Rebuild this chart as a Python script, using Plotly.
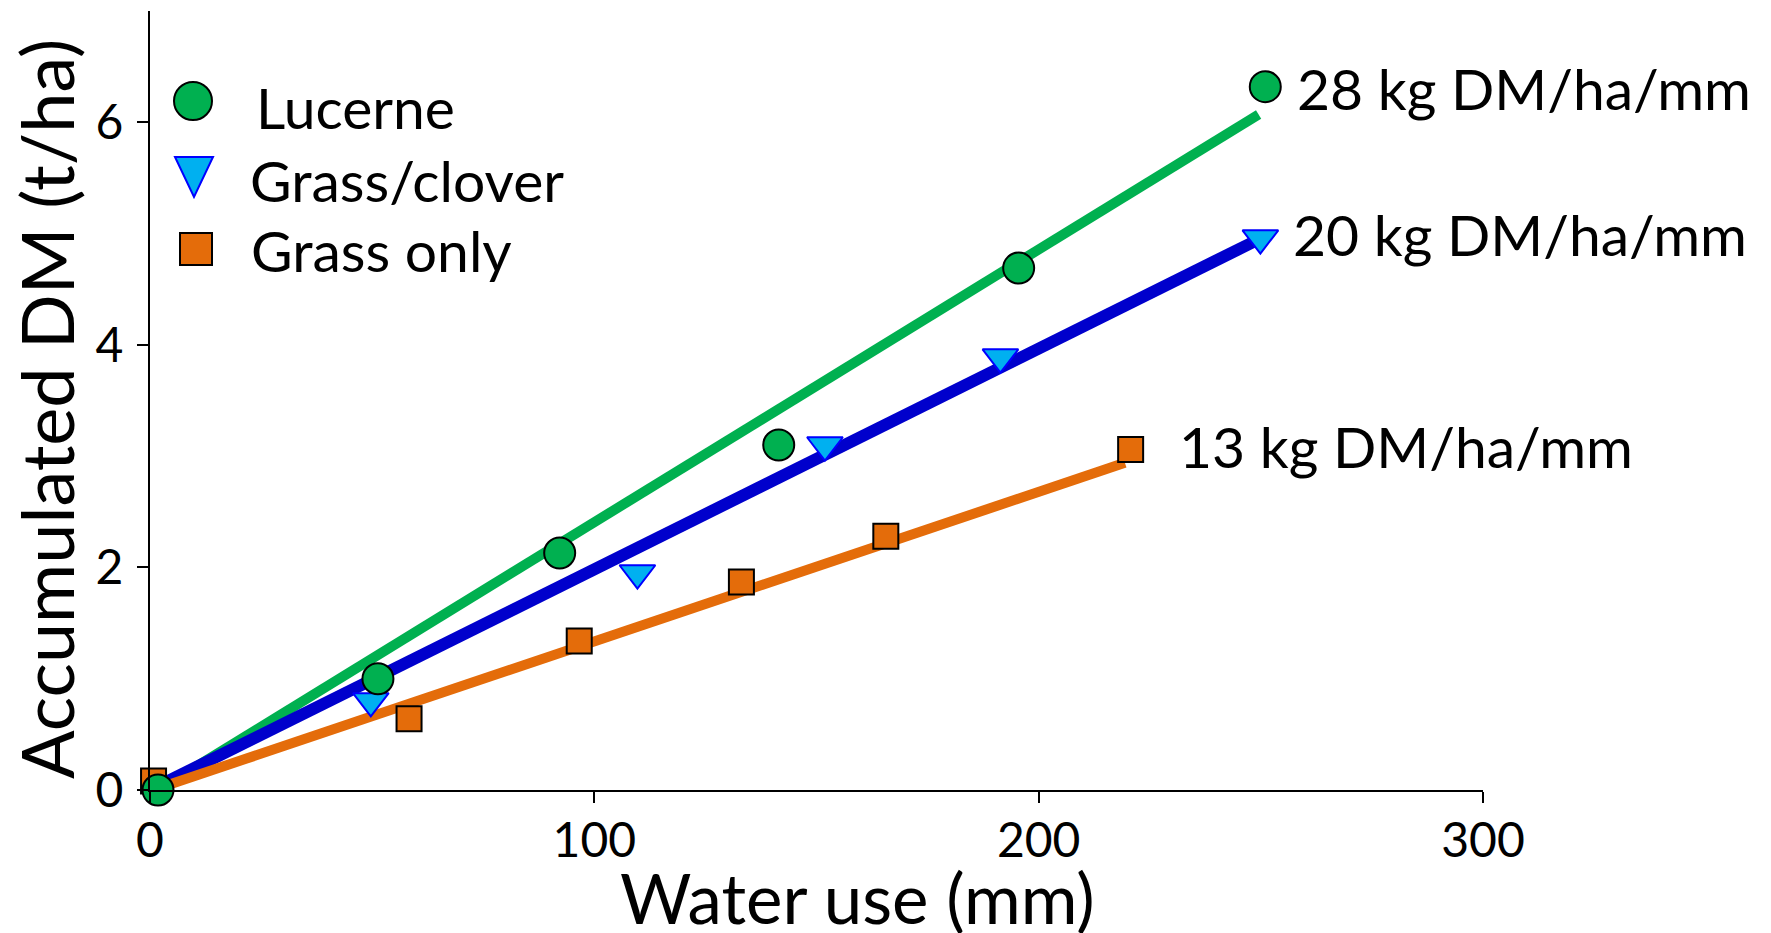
import plotly.graph_objects as go

# ---------------- data ----------------
lucerne_x = [1.8, 51.3, 92.2, 141.5, 195.5, 251.0]
lucerne_y = [0.0, 1.00, 2.13, 3.10, 4.69, 6.32]

clover_x = [-1.0, 49.7, 109.7, 151.9, 191.4, 249.9]
clover_y = [0.0, 0.80, 1.95, 3.10, 3.89, 4.96]

grass_x = [0.8, 58.3, 96.6, 133.1, 165.6, 220.7]
grass_y = [0.08, 0.64, 1.34, 1.87, 2.28, 3.06]

# fitted lines (start / end)
lucerne_fit_x = [1.8, 249.5]
lucerne_fit_y = [0.0, 6.07]
clover_fit_x = [0.0, 249.1]
clover_fit_y = [0.0, 4.94]
grass_fit_x = [0.7, 219.4]
grass_fit_y = [0.0, 2.94]

series_names = ["Lucerne", "Grass/clover", "Grass only"]
slope_labels = ["28 kg DM/ha/mm", "20 kg DM/ha/mm", "13 kg DM/ha/mm"]
slope_label_x = [257.6, 256.8, 231.2]
slope_label_y = [6.31, 5.00, 3.09]

x_ticks = [0, 100, 200, 300]
y_ticks = [0, 2, 4, 6]

# ---------------- styling ----------------
W, H = 1771, 933
L, R, T, B = 150, 288, 11, 143
FONT = "Lato"
GREEN = "#00B050"
BLUE_LINE = "#0000CC"
TRI_FILL = "#00B0F0"
TRI_EDGE = "#0000FF"
ORANGE = "#E46C0A"

plot_w = W - L - R
plot_h = H - T - B


def px_to_paper(px, py):
    return (px - L) / plot_w, (H - B - py) / plot_h


fig = go.Figure()

# fitted lines
fig.add_trace(go.Scatter(x=lucerne_fit_x, y=lucerne_fit_y, mode="lines",
                         line=dict(color=GREEN, width=10), showlegend=False,
                         hoverinfo="skip", cliponaxis=False))
fig.add_trace(go.Scatter(x=clover_fit_x, y=clover_fit_y, mode="lines",
                         line=dict(color=BLUE_LINE, width=12), showlegend=False,
                         hoverinfo="skip", cliponaxis=False))
fig.add_trace(go.Scatter(x=grass_fit_x, y=grass_fit_y, mode="lines",
                         line=dict(color=ORANGE, width=10), showlegend=False,
                         hoverinfo="skip", cliponaxis=False))

# points
fig.add_trace(go.Scatter(x=grass_x, y=grass_y, mode="markers", name=series_names[2],
                         marker=dict(symbol="square", size=25, color=ORANGE,
                                     line=dict(color="black", width=2)),
                         showlegend=False, cliponaxis=False))
fig.add_trace(go.Scatter(x=clover_x, y=clover_y, mode="markers", name=series_names[1],
                         marker=dict(symbol="triangle-down", size=31, color=TRI_FILL,
                                     line=dict(color=TRI_EDGE, width=2)),
                         showlegend=False, cliponaxis=False))
fig.add_trace(go.Scatter(x=lucerne_x, y=lucerne_y, mode="markers", name=series_names[0],
                         marker=dict(symbol="circle", size=31, color=GREEN,
                                     line=dict(color="black", width=2)),
                         showlegend=False, cliponaxis=False))

annotations = []
# slope labels
for txt, sx, sy in zip(slope_labels, slope_label_x, slope_label_y):
    annotations.append(dict(x=sx, y=sy, xref="x", yref="y", text=txt, showarrow=False,
                            xanchor="left", yanchor="middle",
                            font=dict(family=FONT, size=57, color="black")))

# axis titles
ax, ay = px_to_paper(857, 898)
annotations.append(dict(x=ax, y=ay, xref="paper", yref="paper", text="Water use (mm)",
                        showarrow=False, xanchor="center", yanchor="middle",
                        font=dict(family=FONT, size=69, color="black")))
ax, ay = px_to_paper(46, 409)
annotations.append(dict(x=ax, y=ay, xref="paper", yref="paper",
                        text="Accumulated DM (t/ha)", textangle=-90,
                        showarrow=False, xanchor="center", yanchor="middle",
                        font=dict(family=FONT, size=72, color="black")))

# manual legend
legend_text_pos = [(254, 107), (248, 180), (249, 250)]
for name, (tx, ty) in zip(series_names, legend_text_pos):
    px_, py_ = px_to_paper(tx, ty)
    annotations.append(dict(x=px_, y=py_, xref="paper", yref="paper", text=name,
                            showarrow=False, xanchor="left", yanchor="middle",
                            font=dict(family=FONT, size=57, color="black")))

shapes = []
cx, cy = px_to_paper(193, 101)
shapes.append(dict(type="circle", xref="paper", yref="paper", xsizemode="pixel",
                   ysizemode="pixel", xanchor=cx, yanchor=cy,
                   x0=-19, x1=19, y0=-19, y1=19,
                   fillcolor=GREEN, line=dict(color="black", width=2)))
cx, cy = px_to_paper(194, 177)
shapes.append(dict(type="path", xref="paper", yref="paper", xsizemode="pixel",
                   ysizemode="pixel", xanchor=cx, yanchor=cy,
                   path="M-19,20 L19,20 L0,-20 Z",
                   fillcolor=TRI_FILL, line=dict(color=TRI_EDGE, width=2)))
cx, cy = px_to_paper(196, 249)
shapes.append(dict(type="rect", xref="paper", yref="paper", xsizemode="pixel",
                   ysizemode="pixel", xanchor=cx, yanchor=cy,
                   x0=-16, x1=16, y0=-16, y1=16,
                   fillcolor=ORANGE, line=dict(color="black", width=2)))

fig.update_layout(
    width=W, height=H,
    margin=dict(l=L, r=R, t=T, b=B, pad=0),
    paper_bgcolor="white", plot_bgcolor="white",
    showlegend=False,
    annotations=annotations,
    shapes=shapes,
    font=dict(family=FONT, color="black"),
)
fig.update_xaxes(range=[0, 300], tickvals=x_ticks, ticktext=[str(v) for v in x_ticks],
                 showgrid=False, zeroline=False, showline=True, linecolor="black",
                 linewidth=2, ticks="outside", ticklen=11, tickwidth=2, tickcolor="black",
                 tickfont=dict(family=FONT, size=48, color="black"),
                 ticklabelstandoff=-4)
fig.update_yaxes(range=[0, 7], tickvals=y_ticks, ticktext=[str(v) for v in y_ticks],
                 showgrid=False, zeroline=False, showline=True, linecolor="black",
                 linewidth=2, ticks="outside", ticklen=11, tickwidth=2, tickcolor="black",
                 tickfont=dict(family=FONT, size=48, color="black"),
                 ticklabelstandoff=4)

fig.write_html("out.html")
